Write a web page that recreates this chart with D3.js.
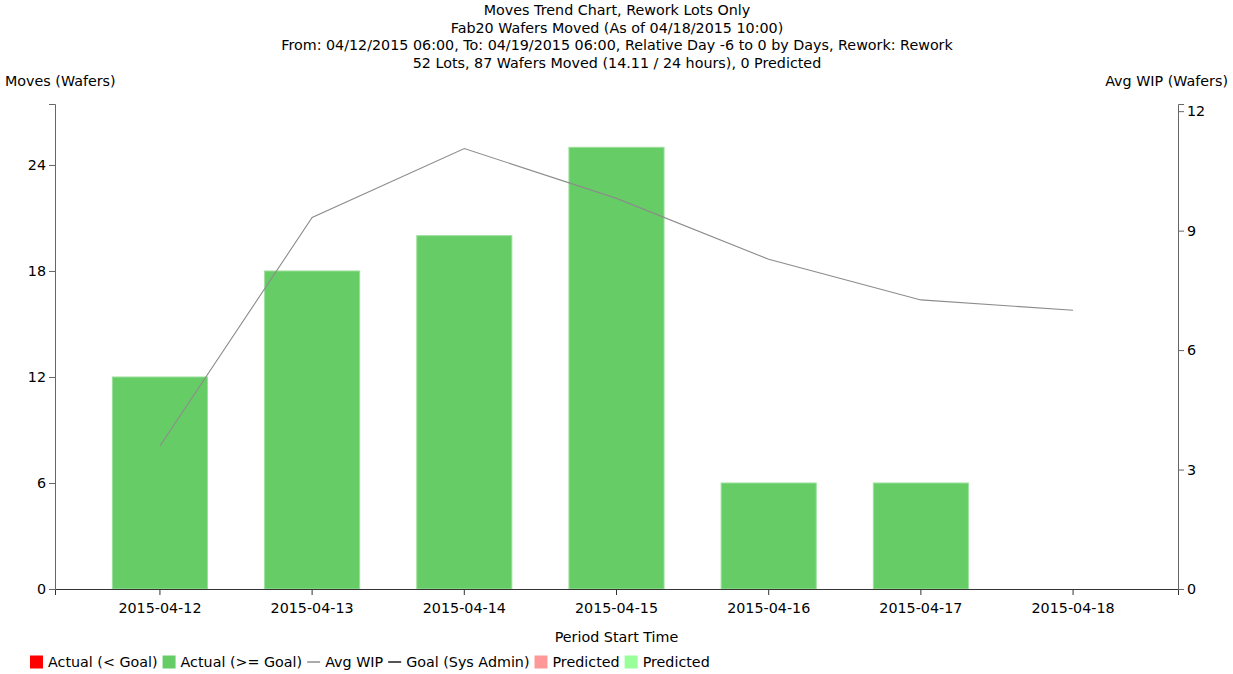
<!DOCTYPE html>
<html><head><meta charset="utf-8">
<script src="https://cdn.jsdelivr.net/npm/d3@7"></script>
<style>
body{margin:0;background:#fff;}
text{font-family:"DejaVu Sans",sans-serif;fill:#000;}
</style></head>
<body>
<svg id="c" width="1233" height="674"></svg>
<script>
const categories = ["2015-04-12","2015-04-13","2015-04-14","2015-04-15","2015-04-16","2015-04-17","2015-04-18"];
const moves = [12, 18, 20, 25, 6, 6, 0];
const avgWip = [3.59, 9.33, 11.06, 9.81, 8.28, 7.26, 7.0];
const leftTicks = [0, 6, 12, 18, 24];
const rightTicks = [0, 3, 6, 9, 12];
const titleLines = [
  "Moves Trend Chart, Rework Lots Only",
  "Fab20 Wafers Moved (As of 04/18/2015 10:00)",
  "From: 04/12/2015 06:00, To: 04/19/2015 06:00, Relative Day -6 to 0 by Days, Rework: Rework",
  "52 Lots, 87 Wafers Moved (14.11 / 24 hours), 0 Predicted"
];
const legendItems = [
  {label:"Actual (< Goal)", type:"rect", color:"#ff0000"},
  {label:"Actual (>= Goal)", type:"rect", color:"#66cc66"},
  {label:"Avg WIP", type:"line", color:"#aaaaaa"},
  {label:"Goal (Sys Admin)", type:"line", color:"#555555"},
  {label:"Predicted", type:"rect", color:"#ff9999"},
  {label:"Predicted", type:"rect", color:"#99ff99"}
];

const FS = 14.3;
const FF = '"DejaVu Sans",sans-serif';
const svg = d3.select("#c");
const L = 55, R = 1178, T = 104, B = 589;

const x = d3.scaleBand().domain(categories).range([L, R]).paddingInner(0.375).paddingOuter(0.377);
const yL = d3.scaleLinear().domain([0, 27.45]).range([B, T]);
const yR = d3.scaleLinear().domain([0, 12.18]).range([B, T]);

// title
svg.append("g").selectAll("text").data(titleLines).join("text")
  .attr("x", 617).attr("y", (d,i)=>15 + i*17.5)
  .attr("text-anchor","middle").style("font-size", FS+"px").text(d=>d);

// bars
svg.append("g").selectAll("rect").data(moves.map((v,i)=>({c:categories[i],v}))).join("rect")
  .attr("x", d=>x(d.c)).attr("width", x.bandwidth())
  .attr("y", d=>yL(d.v)).attr("height", d=>yL(0)-yL(d.v))
  .attr("fill","#66cc66").attr("stroke","#9de09d").attr("stroke-width",1)
  .attr("display", d=>d.v>0?null:"none");

// avg wip line
const line = d3.line().x((d,i)=>x(categories[i]) + x.bandwidth()/2).y(d=>yR(d));
svg.append("path").datum(avgWip).attr("d", line)
  .attr("fill","none").attr("stroke","#8c8c8c").attr("stroke-width",1.1);

// axes
function styleAxis(g, col){
  g.selectAll("path,line").attr("stroke", col);
  g.selectAll("text").style("font-size", FS+"px").style("font-family",FF).attr("fill","#000");
}
const gx = svg.append("g").attr("transform",`translate(0,${B})`).call(d3.axisBottom(x));
styleAxis(gx, "#333");
gx.selectAll("text").attr("dy","1.05em");
const gl = svg.append("g").attr("transform",`translate(${L},0)`).call(d3.axisLeft(yL).tickValues(leftTicks));
styleAxis(gl, "#666");
const gr = svg.append("g").attr("transform",`translate(${R},0)`).call(d3.axisRight(yR).tickValues(rightTicks));
styleAxis(gr, "#666");

// axis titles
svg.append("text").attr("x",5).attr("y",86).style("font-size",FS+"px").text("Moves (Wafers)");
svg.append("text").attr("x",1228).attr("y",86).attr("text-anchor","end").style("font-size",FS+"px").text("Avg WIP (Wafers)");
svg.append("text").attr("x",616.5).attr("y",642).attr("text-anchor","middle").style("font-size",FS+"px").text("Period Start Time");

// legend
const lg = svg.append("g");
let lx = 30;
const ly = 662;
legendItems.forEach(it=>{
  if(it.type==="rect"){
    lg.append("rect").attr("x",lx).attr("y",ly-6.5).attr("width",13).attr("height",13).attr("fill",it.color);
  } else {
    lg.append("line").attr("x1",lx).attr("x2",lx+13).attr("y1",ly).attr("y2",ly).attr("stroke",it.color).attr("stroke-width",2);
  }
  const t = lg.append("text").attr("x",lx+18).attr("y",ly+5).style("font-size",FS+"px").text(it.label);
  lx = lx + 18 + t.node().getComputedTextLength() + 5;
});
</script>
</body></html>
